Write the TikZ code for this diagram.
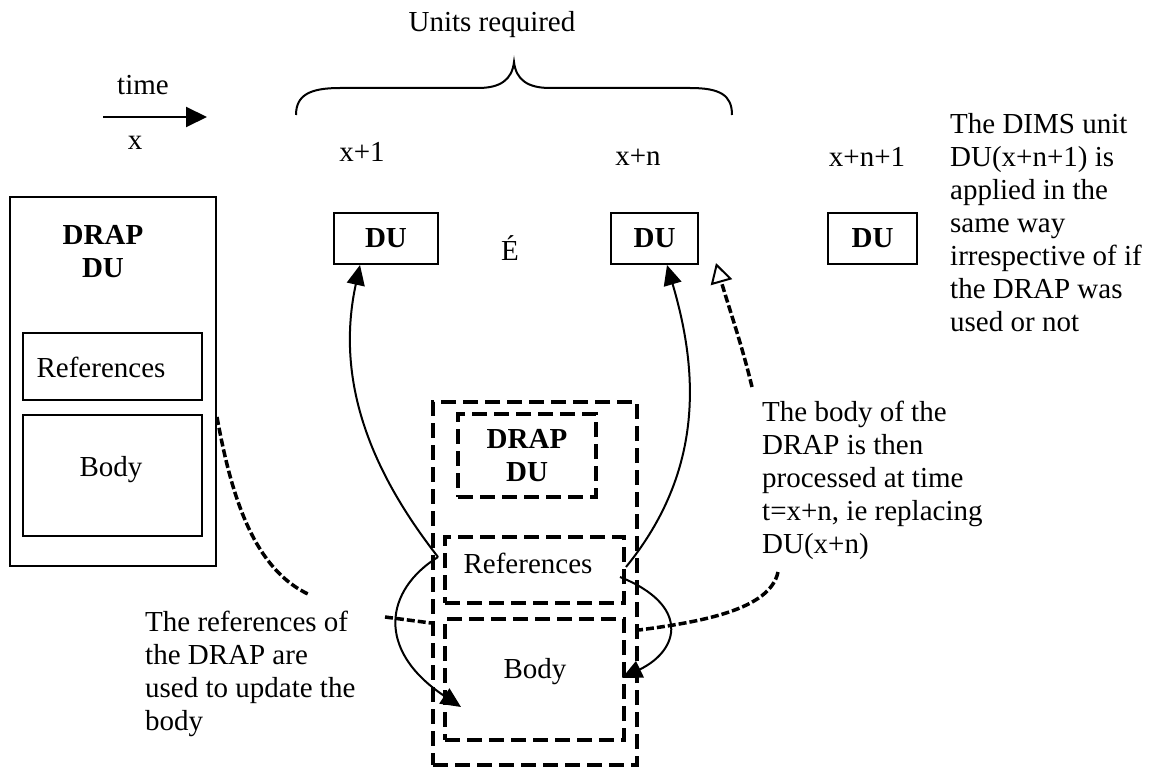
\documentclass[tikz,border=0pt]{standalone}
\usepackage{fontspec}
\setmainfont{Liberation Serif}
\usetikzlibrary{arrows.meta}
\begin{document}
\begin{tikzpicture}[x=1pt,y=-1pt, font=\fontsize{29}{33}\selectfont,
  box/.style={draw, line width=2pt, inner sep=0pt},
  dbox/.style={draw, line width=4pt, dash pattern=on 15pt off 7pt, inner sep=0pt},
  txt/.style={inner sep=0pt},
  para/.style={inner sep=0pt, align=left, anchor=north west},
  conn/.style={line width=2pt, -{Triangle[length=20pt,width=18pt]}},
  dconn/.style={line width=3.5pt, dash pattern=on 8pt off 3pt},
]
\useasboundingbox (0,0) rectangle (1151,767);

% top labels
\node[txt] (units) at (492,25) {Units required};
\draw[line width=2pt] (296,115) .. controls (296,95) and (310,88) .. (340,88) -- (478,88)
  .. controls (500,88) and (512,80) .. (514,62)
  .. controls (516,80) and (528,88) .. (550,88) -- (690,88)
  .. controls (720,88) and (732,95) .. (732,115);
\node[txt] (time) at (143,85) {time};
\coordinate (tA) at (103,117);
\coordinate (tB) at (207,117);
\draw[line width=2pt, -{Triangle[length=21pt,width=20pt]}] (tA) -- (tB);
\node[txt] (x0) at (135,143) {x};
\node[txt] (x1) at (362,152) {x+1};
\node[txt] (xn) at (638,157) {x+n};
\node[txt] (xn1) at (867,157) {x+n+1};

% DU boxes
\node[box, minimum width=104pt, minimum height=51pt] (du1) at (386,238.5) {\textbf{DU}};
\node[box, minimum width=87pt, minimum height=51pt] (du2) at (654.5,238.5) {\textbf{DU}};
\node[box, minimum width=89pt, minimum height=51pt] (du3) at (872.5,238.5) {\textbf{DU}};
\node[txt] (dots) at (510,248) {É};

% right text
\node[para] (txtR) at (950,110) {\strut The DIMS unit\\DU(x+n+1) is\\applied in the\\same way\\irrespective of if\\the DRAP was\\used or not};

% left DRAP DU
\node[box, minimum width=206pt, minimum height=369pt] (bigL) at (113,381.5) {};
\node[txt, align=center] (drapL) at (103,252) {\textbf{DRAP}\\\textbf{DU}};
\node[box, minimum width=179pt, minimum height=67pt] (refL) at (112.5,366.5) {};
\node[txt] (refLt) at (101,367) {References};
\node[box, minimum width=179pt, minimum height=121pt] (bodyL) at (112.5,475.5) {};
\node[txt] (bodyLt) at (111,470) {Body};

% centre dashed DRAP
\node[dbox, minimum width=204pt, minimum height=363pt] (outer) at (535,583.5) {};
\node[dbox, minimum width=138pt, minimum height=83pt, align=center] (drapC) at (527,455.5) {\textbf{DRAP}\\\textbf{DU}};
\node[dbox, minimum width=179pt, minimum height=66pt] (refC) at (534.5,570) {};
\node[txt] (refCt) at (528,563) {References};
\node[dbox, minimum width=179pt, minimum height=121pt] (bodyC) at (534.5,679.5) {};
\node[txt] (bodyCt) at (535,672) {Body};

% explanatory texts
\node[para] (txtL) at (145,608) {\strut The references of\\the DRAP are\\used to update the\\body};
\node[para] (txtB) at (762,398) {\strut The body of the\\DRAP is then\\processed at time\\t=x+n, ie replacing\\DU(x+n)};

% solid arrows
\coordinate (vL) at ([xshift=-5pt,yshift=13pt]refC.west);
\draw[conn] (vL) .. controls (370,470) and (335,380) .. ([xshift=-26pt]du1.south);
\draw[conn] (vL) .. controls (385,590) and (375,650) .. ([xshift=18pt,yshift=-27.5pt]bodyC.west);
\draw[conn] ([yshift=3pt]refC.east) .. controls (705,470) and (698,370) .. ([xshift=12.5pt]du2.south);
\draw[conn] ([xshift=-6pt,yshift=-7pt]refC.east) .. controls (690,605) and (680,650) .. ([xshift=-4pt,yshift=1.5pt]bodyC.east);

% dashed connectors
\draw[dconn] ([yshift=-35.5pt]bigL.east) .. controls (232,500) and (255,570) .. ([xshift=165pt,yshift=13pt]txtL.north west);
\draw[dconn] ([xshift=240pt,yshift=-9pt]txtL.north west) -- ([yshift=-39.5pt]outer.west);
\draw[dconn, -{Triangle[open,length=20pt,width=22pt,line width=2pt]}] ([xshift=-10pt,yshift=11pt]txtB.north west) .. controls (742,345) and (728,305) .. ([xshift=17pt,yshift=2pt]du2.south east);
\draw[dconn] ([xshift=16pt,yshift=-174pt]txtB.north west) .. controls (770,610) and (700,622) .. ([yshift=-46.5pt]outer.east);
\end{tikzpicture}
\end{document}
